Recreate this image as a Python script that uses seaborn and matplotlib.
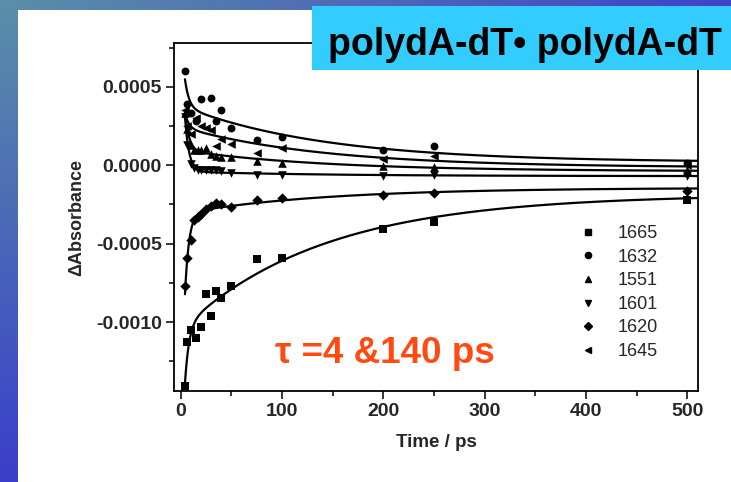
import numpy as np
import pandas as pd
import matplotlib
matplotlib.use("Agg")
import matplotlib.pyplot as plt
import seaborn as sns
from matplotlib.patches import Rectangle
from matplotlib.ticker import MultipleLocator, FormatStrFormatter
from matplotlib.lines import Line2D

# Transient IR absorbance changes of polydA-dT·polydA-dT at six probe wavenumbers (cm-1)
t_1665 = [4.5, 6.5, 10, 15, 20, 25, 30, 35, 40, 50, 75, 100, 200, 250, 500]
a_1665 = [-0.00141, -0.00113, -0.00105, -0.00110, -0.00103, -0.00082, -0.00096,
          -0.00080, -0.00085, -0.00077, -0.00060, -0.00059, -0.00041, -0.00036, -0.00022]

t_1632 = [4.5, 6.5, 10, 15, 20, 30, 35, 40, 50, 75, 100, 200, 250, 500]
a_1632 = [0.00060, 0.00039, 0.00033, 0.00028, 0.000425, 0.00043, 0.00028, 0.00035,
          0.00024, 0.00016, 0.00018, 0.00010, 0.00012, 0.000013]

t_1551 = [4.5, 6.5, 10, 13.5, 17, 20, 25, 30, 35, 40, 50, 75, 100, 200, 250, 500]
a_1551 = [0.00033, 0.00023, 0.00013, 0.00010, 0.00010, 0.00010, 0.00011, 0.00007,
          0.00006, 0.000055, 0.00005, 0.000025, 0.000015, -0.000004, -0.00001, -0.00003]

t_1601 = [4.5, 6.5, 10, 13.5, 17, 20, 25, 30, 35, 40, 50, 75, 100, 200, 250, 500]
a_1601 = [0.00031, 0.00013, 0.00001, -0.00002, -0.00003, -0.00003, -0.00003, -0.00003,
          -0.00003, -0.00004, -0.00005, -0.00006, -0.00006, -0.00007, -0.00006, -0.00007]

t_1620 = [4.5, 6.5, 10, 13.5, 17, 20, 25, 30, 35, 40, 50, 75, 100, 200, 250, 500]
a_1620 = [-0.00077, -0.00059, -0.00048, -0.00035, -0.00033, -0.00031, -0.00028, -0.00026,
          -0.00024, -0.00025, -0.000264, -0.00022, -0.00021, -0.00019, -0.000175, -0.000164]

t_1645 = [4.5, 6.5, 10, 15, 20, 25, 30, 35, 40, 50, 75, 100, 200, 250, 500]
a_1645 = [0.00035, 0.00025, 0.00020, 0.00030, 0.00025, 0.00024, 0.000225, 0.000125,
          0.00017, 0.000136, 0.00008, 0.00011, 0.00004, 0.00006, 0.0]

labels = ["1665", "1632", "1551", "1601", "1620", "1645"]
times = [t_1665, t_1632, t_1551, t_1601, t_1620, t_1645]
values = [a_1665, a_1632, a_1551, a_1601, a_1620, a_1645]
markers = {"1665": "s", "1632": "o", "1551": "^", "1601": "v", "1620": "D", "1645": "<"}
msizes = {"1665": 26, "1632": 32, "1551": 38, "1601": 38, "1620": 28, "1645": 38}

tau_fast, tau_slow = 4.0, 140.0

df = pd.concat([pd.DataFrame({"t": t, "dA": a, "nu": lab})
                for lab, t, a in zip(labels, times, values)], ignore_index=True)

# biexponential fits with the two lifetimes fixed, amplitudes by least squares
t_fit = np.linspace(4.2, 520, 600)
fits = []
for lab, t, a in zip(labels, times, values):
    t = np.asarray(t, float)
    basis = np.column_stack([np.exp(-t / tau_fast), np.exp(-t / tau_slow), np.ones_like(t)])
    coef, *_ = np.linalg.lstsq(basis, np.asarray(a), rcond=None)
    B = np.column_stack([np.exp(-t_fit / tau_fast), np.exp(-t_fit / tau_slow), np.ones_like(t_fit)])
    fits.append(pd.DataFrame({"t": t_fit, "dA": B @ coef, "nu": lab}))
fit_df = pd.concat(fits, ignore_index=True)

sns.set_theme(style="ticks")
plt.rcParams["font.family"] = ["Liberation Sans", "DejaVu Sans"]

W, H = 731, 482
fig = plt.figure(figsize=(W / 100, H / 100), dpi=100)
fig.patch.set_facecolor("white")

# slide backdrop: gradient bands along the left and top edges
img = np.ones((H, W, 3))
top_col = np.array([90, 143, 168]) / 255
bot_col = np.array([58, 62, 202]) / 255
right_col = np.array([64, 66, 200]) / 255
fy = np.linspace(0, 1, H)[:, None]
left_band = top_col * (1 - fy) + bot_col * fy
img[:, :18, :] = left_band[:, None, :]
fx = np.linspace(0, 1, W)[:, None]
top_band = top_col * (1 - fx) + right_col * fx
img[:10, :, :] = top_band[None, :, :]
bg = fig.add_axes([0, 0, 1, 1], zorder=-10)
bg.imshow(img, aspect="auto", extent=[0, 1, 0, 1], interpolation="bilinear")
bg.axis("off")

ax = fig.add_axes([0.2385, 0.1888, 0.7168, 0.7212])
ax.set_facecolor("none")

sns.lineplot(data=fit_df, x="t", y="dA", units="nu", estimator=None, color="black",
             lw=1.6, ax=ax, legend=False, zorder=2)
for lab in labels:
    sub = df[df["nu"] == lab]
    sns.scatterplot(data=sub, x="t", y="dA", marker=markers[lab], s=msizes[lab],
                    color="black", edgecolor="black", linewidth=0, ax=ax,
                    legend=False, zorder=3)

ax.set_xlim(-6.3, 511)
ax.set_ylim(-0.00144, 0.000777)
ax.xaxis.set_major_locator(MultipleLocator(100))
ax.xaxis.set_minor_locator(MultipleLocator(50))
ax.yaxis.set_major_locator(MultipleLocator(0.0005))
ax.yaxis.set_minor_locator(MultipleLocator(0.00025))
ax.yaxis.set_major_formatter(FormatStrFormatter("%.4f"))
ax.tick_params(which="major", direction="out", length=6, width=1.1, labelsize=14,
               color="black", pad=3)
ax.tick_params(which="minor", direction="out", length=3.5, width=1.1, color="black")
for lbl in ax.get_xticklabels() + ax.get_yticklabels():
    lbl.set_fontweight("bold")
for sp in ax.spines.values():
    sp.set_visible(True)
    sp.set_linewidth(1.3)
    sp.set_color("black")

ax.set_xlabel("Time / ps", fontsize=13.5, fontweight="bold", labelpad=10)
ax.set_ylabel("ΔAbsorbance", fontsize=13, fontweight="bold", labelpad=8)

handles = [Line2D([], [], ls="none", marker=markers[l], color="black", markersize=4.5)
           for l in labels]
ax.legend(handles, labels, loc="upper left", bbox_to_anchor=(0.741, 0.498), frameon=False,
          fontsize=13, handletextpad=0.67, labelspacing=0.365, borderaxespad=0)

ax.text(0.192, 0.109, "τ =4 &140 ps", transform=ax.transAxes, color="#ff4a12",
        fontsize=26.5, fontweight="bold", ha="left", va="center")

# title box in the upper right
fig.patches.append(Rectangle((312 / W, 1 - 70 / H), (W - 312) / W, 64 / H,
                             transform=fig.transFigure, facecolor="#33ccff",
                             edgecolor="none", zorder=5))
fig.text(525 / W, 1 - 45 / H, "polydA-dT• polydA-dT", fontsize=27, fontweight="bold",
         ha="center", va="center", color="black", zorder=6)

fig.savefig("out.png", dpi=100)
